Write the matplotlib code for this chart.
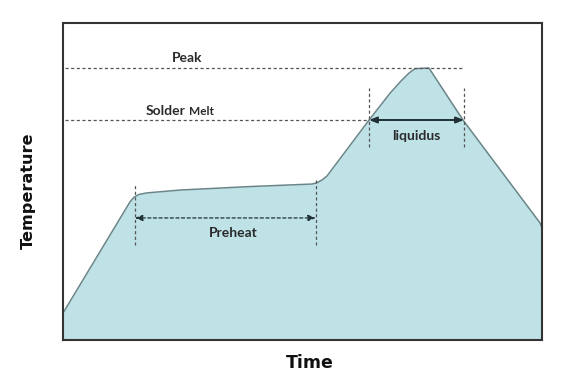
import matplotlib
matplotlib.use("Agg")
import matplotlib.pyplot as plt

# Reflow-profile curve (arbitrary units: time 0-100, temperature 0-100)
time = [0, 13.2, 14.0, 14.8, 15.8, 17.5, 24.4, 39.0, 52.0, 53.0, 54.0, 55.1, 63.9,
        68.3, 70.5, 72.3, 73.5, 76.4, 83.5, 99.6, 100]
temperature = [8.5, 41.6, 43.6, 45.0, 45.9, 46.4, 47.3, 48.4, 49.2, 49.6, 50.4, 51.7, 69.4,
               77.9, 81.6, 84.3, 85.6, 85.8, 69.4, 36.9, 35.3]

peak_level = 85.8
melt_level = 69.4
preheat_start, preheat_end = 15.0, 52.8
liquidus_start, liquidus_end = 63.9, 83.7

x_label = "Time"
y_label = "Temperature"

fig = plt.figure(figsize=(5.72, 3.8), dpi=100)
ax = fig.add_axes([63/572, 40/380, 479/572, 317/380])
ax.set_xlim(0, 100)
ax.set_ylim(0, 100)

fill_col = "#bfe2e7"
ax.fill_between(time, temperature, 0, color=fill_col, lw=0)
ax.plot(time, temperature, color="#6a8588", lw=1.1, solid_joinstyle="round")

guide = dict(color="#555555", lw=0.9, ls=(0, (2.5, 2)))
ax.plot([0.4, liquidus_end], [peak_level, peak_level], **guide)
ax.plot([0.4, liquidus_start], [melt_level, melt_level], **guide)
ax.plot([liquidus_start, liquidus_start], [60.9, 79.5], **guide)
ax.plot([liquidus_end, liquidus_end], [60.9, 79.5], **guide)
ax.plot([preheat_start, preheat_start], [30.0, 48.9], **guide)
ax.plot([preheat_end, preheat_end], [30.0, 50.5], **guide)

ax.annotate("", xy=(preheat_end, 38.5), xytext=(preheat_start, 38.5),
            arrowprops=dict(arrowstyle="<|-|>,head_length=0.45,head_width=0.18",
                            color="#1f2f33", lw=0.9, ls=(0, (2.5, 2)),
                            shrinkA=0, shrinkB=0))
ax.annotate("", xy=(liquidus_end, melt_level), xytext=(liquidus_start, melt_level),
            arrowprops=dict(arrowstyle="<|-|>,head_length=0.45,head_width=0.18",
                            color="#1f2f33", lw=1.4,
                            shrinkA=0, shrinkB=0))

tfont = dict(family=["Lato", "DejaVu Sans"], fontweight="bold", color="#2a2a2a")
ax.text(25.9, 87.6, "Peak", ha="center", va="baseline", fontsize=10, **tfont)
ax.text(17.3, 71.0, "Solder", ha="left", va="baseline", fontsize=10, **tfont)
ax.text(26.4, 71.0, "Melt", ha="left", va="baseline", fontsize=8.5, **tfont)
ax.text(35.5, 33.8, "Preheat", ha="center", va="center", fontsize=10, **tfont)
ax.text(73.7, 64.4, "liquidus", ha="center", va="center", fontsize=10, **tfont)

ax.set_xticks([])
ax.set_yticks([])
for s in ax.spines.values():
    s.set_color("#333333")
    s.set_linewidth(1.5)

fig.text(310/572, 1 - 363/380, x_label, ha="center", va="center",
         fontsize=12.5, fontweight="bold", family=["DejaVu Sans"], color="#111111")
fig.text(28/572, 1 - 191/380, y_label, ha="center", va="center", rotation=90,
         fontsize=11.6, fontweight="bold", family=["DejaVu Sans"], color="#111111")

fig.savefig("out.png", dpi=100)
